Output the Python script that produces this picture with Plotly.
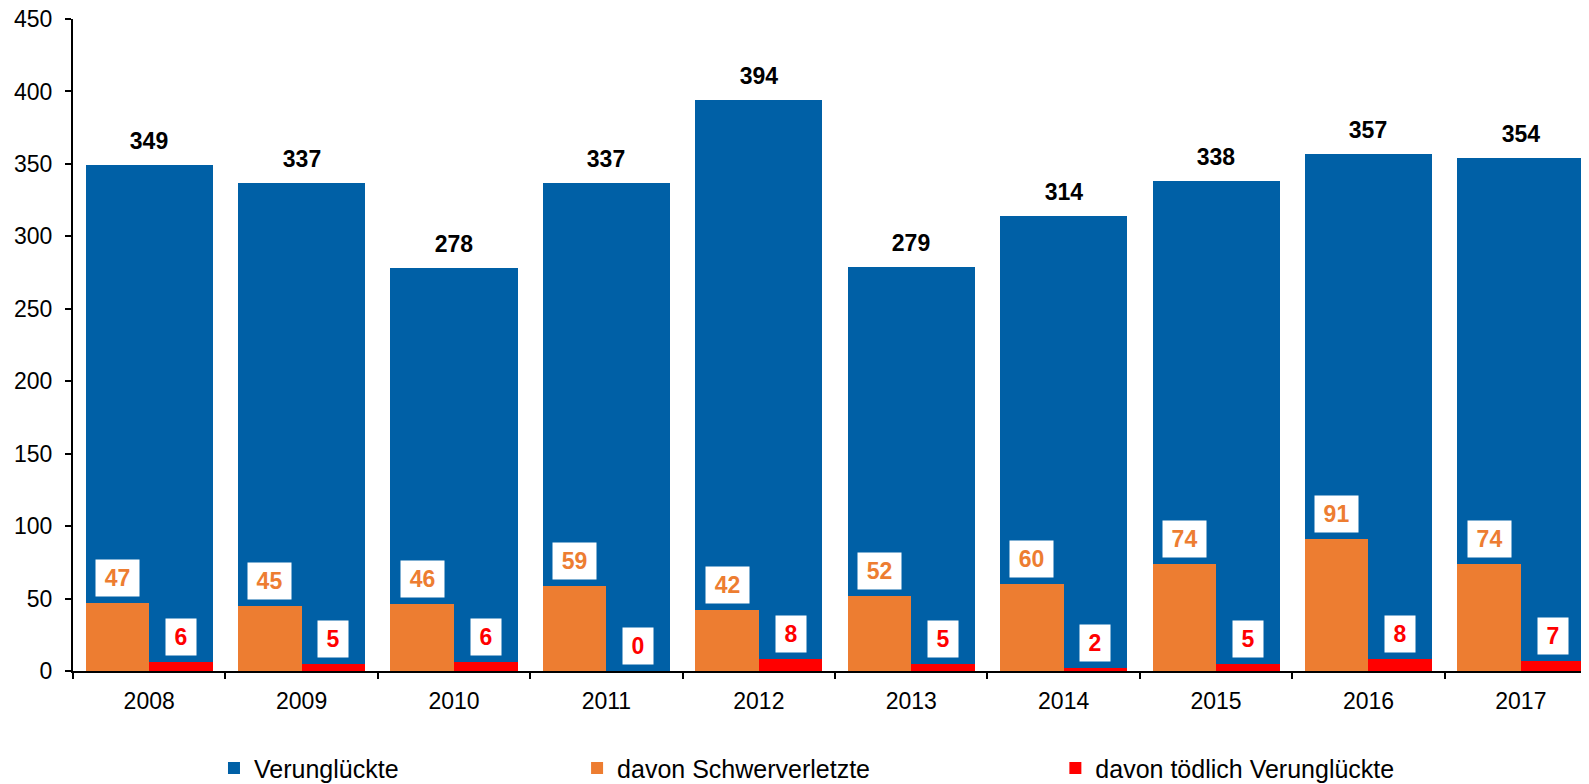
import plotly.graph_objects as go

years = ["2008", "2009", "2010", "2011", "2012", "2013", "2014", "2015", "2016", "2017"]
verunglueckte = [349, 337, 278, 337, 394, 279, 314, 338, 357, 354]
schwerverletzte = [47, 45, 46, 59, 42, 52, 60, 74, 91, 74]
toedlich = [6, 5, 6, 0, 8, 5, 2, 5, 8, 7]

BLUE = "#0060A6"
ORANGE = "#ED7D31"
RED = "#FF0000"
FONT = "Liberation Sans, Arial, sans-serif"

W_FULL = 0.834
W_HALF = W_FULL / 2

fig = go.Figure()
fig.add_trace(go.Bar(
    x=years, y=verunglueckte, name="Verunglückte",
    marker=dict(color=BLUE, line=dict(width=0)),
    width=W_FULL, offset=-W_HALF, legend="legend",
))
fig.add_trace(go.Bar(
    x=years, y=schwerverletzte, name="davon Schwerverletzte",
    marker=dict(color=ORANGE, line=dict(width=0)),
    width=W_HALF, offset=-W_HALF, legend="legend2",
))
fig.add_trace(go.Bar(
    x=years, y=toedlich, name="davon tödlich Verunglückte",
    marker=dict(color=RED, line=dict(width=0)),
    width=W_HALF, offset=0, legend="legend3",
))

annotations = []
def label(xpos, yval, color, boxed):
    txt = str(yval)
    annotations.append(dict(
        x=xpos, y=yval, xref="x", yref="y", text=txt, showarrow=False,
        yanchor="bottom", yshift=6 if boxed else 5, xanchor="center",
        font=dict(family=FONT, size=23, color=color, weight="bold"),
        bgcolor="white" if boxed else "rgba(0,0,0,0)",
        width=13 * len(txt) + 11, height=30, borderpad=3,
    ))

for i in range(len(years)):
    label(i, verunglueckte[i], "black", False)
    label(i - W_HALF / 2, schwerverletzte[i], ORANGE, True)
    label(i + W_HALF / 2, toedlich[i], RED, True)

legend_common = dict(
    orientation="h", yref="paper", y=-0.149, yanchor="middle", xanchor="left",
    font=dict(family=FONT, size=25, color="black"), bgcolor="rgba(0,0,0,0)",
    itemclick=False, itemdoubleclick=False,
)

# the page body has an 8px default margin, so the figure is sized to fit the window
fig.update_layout(
    width=1581, height=776,
    margin=dict(l=65, r=0, t=11, b=113, pad=0, autoexpand=False),
    paper_bgcolor="white", plot_bgcolor="white",
    barmode="overlay", bargap=0,
    showlegend=True,
    font=dict(family=FONT, size=23, color="black"),
    annotations=annotations,
    legend=dict(x=0.093, **legend_common),
    legend2=dict(x=0.3325, **legend_common),
    legend3=dict(x=0.648, **legend_common),
    xaxis=dict(
        type="category", range=[-0.5, 9.447], tickson="boundaries",
        ticks="outside", ticklen=6, tickwidth=2, tickcolor="black",
        showline=True, linecolor="black", linewidth=2,
        showgrid=False, zeroline=False, ticklabelstandoff=8,
        tickfont=dict(family=FONT, size=23, color="black"), fixedrange=True,
    ),
    yaxis=dict(
        range=[0, 450], dtick=50, tick0=0,
        ticks="outside", ticklen=6, tickwidth=2, tickcolor="black",
        showline=True, linecolor="black", linewidth=2,
        showgrid=False, zeroline=False, ticklabelstandoff=8,
        ticklabeloverflow="allow",
        tickfont=dict(family=FONT, size=23, color="black"), fixedrange=True,
    ),
)

fig.write_html("out.html")
